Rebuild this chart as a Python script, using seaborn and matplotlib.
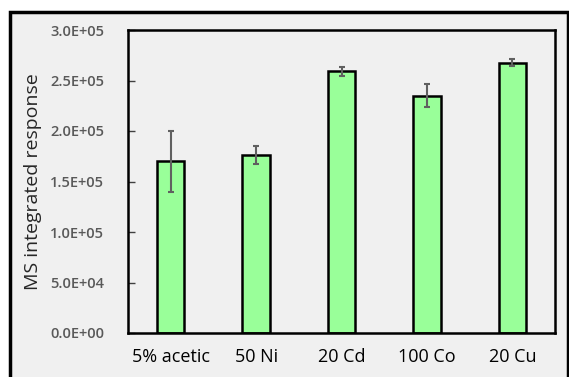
import matplotlib
matplotlib.use("Agg")
import matplotlib.pyplot as plt
import matplotlib.ticker as mticker
from matplotlib.patches import Rectangle
import seaborn as sns
import pandas as pd

# data
categories = ["5% acetic", "50 Ni", "20 Cd", "100 Co", "20 Cu"]
response = [1.70e5, 1.76e5, 2.59e5, 2.35e5, 2.675e5]
response_err = [0.30e5, 0.09e5, 0.045e5, 0.117e5, 0.036e5]
y_ticks = [0, 0.5e5, 1.0e5, 1.5e5, 2.0e5, 2.5e5, 3.0e5]

df = pd.DataFrame({"sample": categories, "response": response})

sns.set_style("white")
plt.rcParams["font.family"] = ["Open Sans", "DejaVu Sans"]

fig = plt.figure(figsize=(5.69, 3.77), dpi=100, facecolor="white")

# outer chart frame (Excel-style chart area), drawn behind the axes
frame = Rectangle((10 / 569, -0.05), 558 / 569, 1.05 - 12 / 377,
                  transform=fig.transFigure, facecolor="#f0f0f0",
                  edgecolor="black", linewidth=2.5, zorder=-1)
fig.patches.append(frame)

ax = fig.add_axes([128 / 569, 44 / 377, 427 / 569, 303 / 377])
ax.set_facecolor("#f0f0f0")

sns.barplot(data=df, x="sample", y="response", ax=ax, color="#99ff99",
            edgecolor="black", linewidth=1.8, width=0.32, saturation=1,
            errorbar=None)
ax.errorbar(range(len(categories)), response, yerr=response_err, fmt="none",
            ecolor="#606060", elinewidth=1.5, capsize=2.5, capthick=1.5)

ax.set_ylim(0, 3.0e5)
ax.set_xlim(-0.5, len(categories) - 0.5)
ax.set_yticks(y_ticks)
ax.yaxis.set_major_formatter(mticker.FuncFormatter(lambda v, p: f"{v:.1E}"))

for side in ["left", "right", "top", "bottom"]:
    ax.spines[side].set_visible(True)
    ax.spines[side].set_color("black")
    ax.spines[side].set_linewidth(1.8)

ax.tick_params(axis="y", direction="in", length=5, width=1, color="#404040",
               labelsize=10.5, labelcolor="#595959", pad=17, left=True)
ax.tick_params(axis="x", length=0, labelsize=13, labelcolor="black", pad=11)
for lbl in ax.get_yticklabels():
    lbl.set_fontweight("semibold")

ax.set_xlabel("")
ax.set_ylabel("MS integrated response", fontsize=14, labelpad=6)

fig.savefig("out.png", dpi=100, facecolor="white")
